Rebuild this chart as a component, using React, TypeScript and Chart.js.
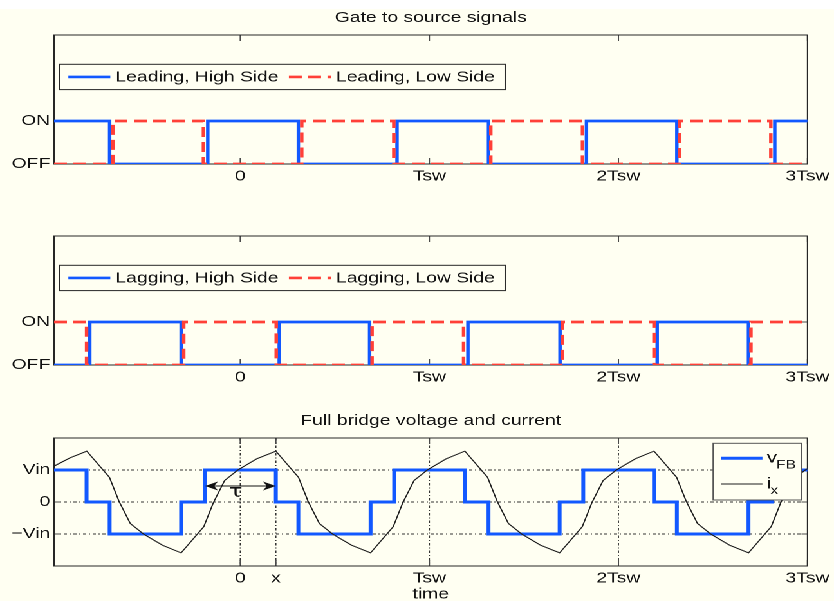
import React, { useEffect, useRef } from 'react';
import { Chart, registerables } from 'chart.js';

Chart.register(...registerables);

// The figure is laid out on a 648px-wide drawing and widened to the 834px page.
const PAGE_W = 834;
const PAGE_H = 601;
const INNER_W = 648;
const STRETCH = PAGE_W / INNER_W;
const PLOT_LEFT = 42;
const PLOT_RIGHT_PAD = INNER_W - 629.4;

const FONT = '"Liberation Sans", Arial, Helvetica, sans-serif';
const BG = 'rgb(255,255,242)';
const INK = '#121212';
const FRAME = '#262626';
const BLUE = 'rgb(18,88,255)';
const RED = 'rgb(255,64,56)';
const CURRENT = 'rgb(30,30,30)';

// time axis, in switching periods
const xMin = -0.985;
const xMax = 3;
const gateXTicks = [0, 1, 2, 3];
const gateXLabels = ['0', 'Tsw', '2Tsw', '3Tsw'];
const bridgeXTicks = [0, 0.188, 1, 2, 3];
const bridgeXLabels = ['0', 'x', 'Tsw', '2Tsw', '3Tsw'];

const gateYTicks = [0, 1];
const gateYLabels = ['OFF', 'ON'];
const bridgeYTicks = [-1, 0, 1];
const bridgeYLabels = ['\u2212Vin', '0', 'Vin'];

// gate signals: switching instants and the state that starts at each one
const leadHighT = [-0.985, -0.691, -0.172, 0.307, 0.829, 1.313, 1.831, 2.309, 2.827, 3];
const leadHighS = [1, 0, 1, 0, 1, 0, 1, 0, 1, 1];
const leadLowT = [-0.985, -0.673, -0.195, 0.325, 0.812, 1.325, 1.81, 2.323, 2.806, 3];
const leadLowS = [0, 1, 0, 1, 0, 1, 0, 1, 0, 0];
const lagHighT = [-0.985, -0.796, -0.313, 0.206, 0.684, 1.204, 1.691, 2.205, 2.688, 3];
const lagHighS = [0, 1, 0, 1, 0, 1, 0, 1, 0, 0];
const lagLowT = [-0.985, -0.813, -0.299, 0.19, 0.697, 1.181, 1.703, 2.188, 2.701, 3];
const lagLowS = [1, 0, 1, 0, 1, 0, 1, 0, 1, 1];

// full bridge voltage (in Vin) and its switching instants
const vfbT = [-0.985, -0.813, -0.691, -0.313, -0.186, 0.188, 0.307, 0.689, 0.814, 1.188, 1.313, 1.689, 1.814, 2.188, 2.309, 2.688, 2.814, 3];
const vfbV = [1, 0, -1, 0, 1, 0, -1, 0, 1, 0, -1, 0, 1, 0, -1, 0, 1, 1];

// bridge current samples
const ixT = [-0.985, -0.9, -0.812, -0.692, -0.642, -0.582, -0.512, -0.412, -0.313, -0.193, -0.143, -0.083, -0.013, 0.087, 0.188, 0.308, 0.358, 0.418, 0.488, 0.588, 0.689, 0.809, 0.859, 0.919, 0.989, 1.089, 1.188, 1.308, 1.358, 1.418, 1.488, 1.588, 1.689, 1.809, 1.859, 1.919, 1.989, 2.089, 2.188, 2.308, 2.358, 2.418, 2.488, 2.588, 2.688, 2.808, 2.858, 2.918, 2.988, 3];
const ixV = [1.12, 1.38, 1.59, 0.77, 0.03, -0.67, -1.0, -1.35, -1.59, -0.77, -0.03, 0.67, 1.0, 1.35, 1.59, 0.77, 0.03, -0.67, -1.0, -1.35, -1.59, -0.77, -0.03, 0.67, 1.0, 1.35, 1.59, 0.77, 0.03, -0.67, -1.0, -1.35, -1.59, -0.77, -0.03, 0.67, 1.0, 1.35, 1.59, 0.77, 0.03, -0.67, -1.0, -1.35, -1.59, -0.77, -0.03, 0.67, 1.0, 1.04];

// phase shift marker
const tauStart = -0.186;
const tauEnd = 0.188;
const tauLevel = 0.5;
const tauLabelAt = [-0.025, 0.3];

const toPoints = (t: number[], v: number[]) => t.map((x, i) => ({ x, y: v[i] }));

type Entry = { label: string; sub?: string; color: string; width: number; dash: number[] };

const framePlugin = (xTicks: number[], yTicks: number[], grid: boolean) => ({
  id: 'frame',
  beforeDatasetsDraw(chart: any) {
    const { ctx, chartArea: a, scales } = chart;
    const xs = scales.x;
    const ys = scales.y;
    ctx.save();
    if (grid) {
      ctx.strokeStyle = '#333';
      ctx.lineWidth = 0.9;
      ctx.setLineDash([2.5, 2, 1, 2]);
      xTicks.forEach((v) => {
        const px = xs.getPixelForValue(v);
        if (px > a.left + 1 && px < a.right - 1) {
          ctx.beginPath();
          ctx.moveTo(px, a.top);
          ctx.lineTo(px, a.bottom);
          ctx.stroke();
        }
      });
      yTicks.forEach((v) => {
        const py = ys.getPixelForValue(v);
        ctx.beginPath();
        ctx.moveTo(a.left, py);
        ctx.lineTo(a.right, py);
        ctx.stroke();
      });
      ctx.setLineDash([]);
    }
    ctx.strokeStyle = '#4a4a4a';
    ctx.lineWidth = 1;
    xTicks.forEach((v) => {
      const px = xs.getPixelForValue(v);
      ctx.beginPath();
      ctx.moveTo(px, a.top);
      ctx.lineTo(px, a.top + 6);
      ctx.moveTo(px, a.bottom);
      ctx.lineTo(px, a.bottom - 6);
      ctx.stroke();
    });
    yTicks.forEach((v) => {
      const py = ys.getPixelForValue(v);
      ctx.beginPath();
      ctx.moveTo(a.left, py);
      ctx.lineTo(a.left + 4.7, py);
      ctx.moveTo(a.right, py);
      ctx.lineTo(a.right - 4.7, py);
      ctx.stroke();
    });
    ctx.strokeStyle = FRAME;
    ctx.strokeRect(a.left, a.top, a.right - a.left, a.bottom - a.top);
    ctx.restore();
  },
});

const sample = (ctx: any, e: Entry, x1: number, x2: number, y: number) => {
  ctx.save();
  ctx.strokeStyle = e.color;
  ctx.lineWidth = e.width;
  ctx.setLineDash(e.dash);
  ctx.beginPath();
  ctx.moveTo(x1, y);
  ctx.lineTo(x2, y);
  ctx.stroke();
  ctx.restore();
};

// one-row legend box in the upper left of the plot area
const rowLegendPlugin = (entries: Entry[]) => ({
  id: 'rowLegend',
  afterDatasetsDraw(chart: any) {
    const { ctx, chartArea: a } = chart;
    ctx.save();
    ctx.font = `15px ${FONT}`;
    const x0 = a.left + 4.4;
    const y0 = a.top + 29.3;
    const h = 25.3;
    const cy = y0 + h / 2;
    const lineLen = 32.6;
    const widths = entries.map((e) => ctx.measureText(e.label).width);
    let w = 6.7;
    widths.forEach((tw, i) => {
      w += lineLen + 4 + tw + (i < widths.length - 1 ? 8 : 0);
    });
    w += 8;
    ctx.fillStyle = BG;
    ctx.fillRect(x0, y0, w, h);
    ctx.strokeStyle = FRAME;
    ctx.lineWidth = 1;
    ctx.strokeRect(x0, y0, w, h);
    let x = x0 + 6.7;
    entries.forEach((e, i) => {
      sample(ctx, e, x, x + lineLen, cy);
      x += lineLen + 4;
      ctx.fillStyle = INK;
      ctx.textBaseline = 'middle';
      ctx.textAlign = 'left';
      ctx.fillText(e.label, x, cy + 0.5);
      x += widths[i] + 8;
    });
    ctx.restore();
  },
});

// stacked legend box in the upper right, with subscripted names
const columnLegendPlugin = (entries: Entry[]) => ({
  id: 'columnLegend',
  afterDatasetsDraw(chart: any) {
    const { ctx, chartArea: a } = chart;
    ctx.save();
    const w = 68.6;
    const h = 56.7;
    const x0 = a.right - 4.7 - w;
    const y0 = a.top + 5.3;
    ctx.fillStyle = BG;
    ctx.fillRect(x0, y0, w, h);
    ctx.strokeStyle = '#555';
    ctx.lineWidth = 1;
    ctx.strokeRect(x0, y0, w, h);
    const rows = [15, 40.7];
    entries.forEach((e, i) => {
      const ly = y0 + rows[i];
      sample(ctx, e, x0 + 5.9, x0 + 38.3, ly);
      const tx = x0 + 41.6;
      ctx.fillStyle = INK;
      ctx.textAlign = 'left';
      ctx.textBaseline = 'alphabetic';
      ctx.font = `16px ${FONT}`;
      ctx.fillText(e.label, tx, ly + 4.4);
      const mw = ctx.measureText(e.label).width;
      if (e.sub) {
        ctx.font = `12px ${FONT}`;
        ctx.fillText(e.sub, tx + mw - 0.6, ly + 10);
      }
    });
    ctx.restore();
  },
});

// double-headed arrow marking the phase shift
const tauPlugin = {
  id: 'tau',
  afterDatasetsDraw(chart: any) {
    const { ctx, scales } = chart;
    const xs = scales.x;
    const ys = scales.y;
    const x1 = xs.getPixelForValue(tauStart);
    const x2 = xs.getPixelForValue(tauEnd);
    const y = ys.getPixelForValue(tauLevel);
    ctx.save();
    ctx.strokeStyle = '#111';
    ctx.fillStyle = '#111';
    ctx.lineWidth = 1;
    ctx.beginPath();
    ctx.moveTo(x1 + 3, y);
    ctx.lineTo(x2 - 3, y);
    ctx.stroke();
    const head = (tip: number, dir: number) => {
      ctx.beginPath();
      ctx.moveTo(tip, y);
      ctx.lineTo(tip - dir * 10, y - 4.5);
      ctx.lineTo(tip - dir * 7, y);
      ctx.lineTo(tip - dir * 10, y + 4.5);
      ctx.closePath();
      ctx.fill();
    };
    head(x1, -1);
    head(x2, 1);
    ctx.font = '18px "DejaVu Sans", sans-serif';
    ctx.textAlign = 'center';
    ctx.textBaseline = 'middle';
    ctx.fillText('\u03c4', xs.getPixelForValue(tauLabelAt[0]), ys.getPixelForValue(tauLabelAt[1]));
    ctx.restore();
  },
};

const tickFont = { family: FONT, size: 15 };

function makeConfig(opts: {
  datasets: any[];
  title?: string;
  titlePadding?: { top: number; bottom: number };
  padTop: number;
  xAxisHeight: number;
  xTicks: number[];
  xLabels: string[];
  yTicks: number[];
  yLabels: string[];
  yMin: number;
  yMax: number;
  xTitle?: string;
  plugins: any[];
}): any {
  return {
    type: 'line',
    data: { datasets: opts.datasets },
    plugins: opts.plugins,
    options: {
      animation: false,
      responsive: true,
      maintainAspectRatio: false,
      devicePixelRatio: 2,
      events: [],
      layout: { padding: { left: 0, right: PLOT_RIGHT_PAD, top: opts.padTop, bottom: 0 } },
      elements: { point: { radius: 0 }, line: { tension: 0 } },
      plugins: {
        legend: { display: false },
        tooltip: { enabled: false },
        title: {
          display: !!opts.title,
          text: opts.title || '',
          fullSize: false,
          color: INK,
          font: { family: FONT, size: 15, weight: 'normal', lineHeight: 1.2 },
          padding: opts.titlePadding || { top: 0, bottom: 0 },
        },
      },
      scales: {
        x: {
          type: 'linear',
          min: xMin,
          max: xMax,
          afterBuildTicks: (s: any) => {
            s.ticks = opts.xTicks.map((value) => ({ value }));
          },
          afterFit: (s: any) => {
            s.height = opts.xAxisHeight;
          },
          grid: { display: false, drawTicks: false },
          border: { display: false },
          ticks: {
            autoSkip: false,
            maxRotation: 0,
            minRotation: 0,
            padding: 3.5,
            color: INK,
            font: tickFont,
            callback: (_v: any, i: number) => opts.xLabels[i],
          },
          title: {
            display: !!opts.xTitle,
            text: opts.xTitle || '',
            color: INK,
            font: { family: FONT, size: 15, lineHeight: 1.2 },
            padding: { top: 0, bottom: 6.7 },
          },
        },
        y: {
          type: 'linear',
          min: opts.yMin,
          max: opts.yMax,
          afterBuildTicks: (s: any) => {
            s.ticks = opts.yTicks.map((value) => ({ value }));
          },
          afterFit: (s: any) => {
            s.width = PLOT_LEFT;
          },
          grid: { display: false, drawTicks: false },
          border: { display: false },
          ticks: {
            padding: 3,
            color: INK,
            font: tickFont,
            callback: (_v: any, i: number) => opts.yLabels[i],
          },
        },
      },
    },
  };
}

const gateSet = (label: string, t: number[], s: number[], color: string, dash: number[], order: number) => ({
  label,
  data: toPoints(t, s),
  borderColor: color,
  backgroundColor: color,
  borderWidth: 2.7,
  borderDash: dash,
  stepped: 'before',
  pointRadius: 0,
  fill: false,
  order,
});

const leadEntries: Entry[] = [
  { label: 'Leading, High Side', color: BLUE, width: 2.7, dash: [] },
  { label: 'Leading, Low Side', color: RED, width: 2.7, dash: [10, 5] },
];
const lagEntries: Entry[] = [
  { label: 'Lagging, High Side', color: BLUE, width: 2.7, dash: [] },
  { label: 'Lagging, Low Side', color: RED, width: 2.7, dash: [10, 5] },
];
const bridgeEntries: Entry[] = [
  { label: 'v', sub: 'FB', color: BLUE, width: 3, dash: [] },
  { label: 'i', sub: 'x', color: CURRENT, width: 1, dash: [] },
];

export default function App() {
  const lead = useRef<HTMLCanvasElement>(null);
  const lag = useRef<HTMLCanvasElement>(null);
  const bridge = useRef<HTMLCanvasElement>(null);

  useEffect(() => {
    const charts: Chart[] = [];
    charts.push(
      new Chart(
        lead.current!,
        makeConfig({
          datasets: [
            gateSet(leadEntries[0].label, leadHighT, leadHighS, BLUE, [], 1),
            gateSet(leadEntries[1].label, leadLowT, leadLowS, RED, [10, 5], 0),
          ],
          title: 'Gate to source signals',
          titlePadding: { top: 9, bottom: 8 },
          padTop: 0,
          xAxisHeight: 36,
          xTicks: gateXTicks,
          xLabels: gateXLabels,
          yTicks: gateYTicks,
          yLabels: gateYLabels,
          yMin: 0,
          yMax: 3,
          plugins: [framePlugin(gateXTicks, gateYTicks, false), rowLegendPlugin(leadEntries)],
        })
      )
    );
    charts.push(
      new Chart(
        lag.current!,
        makeConfig({
          datasets: [
            gateSet(lagEntries[0].label, lagHighT, lagHighS, BLUE, [], 1),
            gateSet(lagEntries[1].label, lagLowT, lagLowS, RED, [10, 5], 0),
          ],
          padTop: 36,
          xAxisHeight: 35,
          xTicks: gateXTicks,
          xLabels: gateXLabels,
          yTicks: gateYTicks,
          yLabels: gateYLabels,
          yMin: 0,
          yMax: 3,
          plugins: [framePlugin(gateXTicks, gateYTicks, false), rowLegendPlugin(lagEntries)],
        })
      )
    );
    charts.push(
      new Chart(
        bridge.current!,
        makeConfig({
          datasets: [
            {
              label: 'vFB',
              data: toPoints(vfbT, vfbV),
              borderColor: BLUE,
              borderWidth: 3,
              stepped: 'before',
              pointRadius: 0,
              fill: false,
              order: 1,
            },
            {
              label: 'ix',
              data: toPoints(ixT, ixV),
              borderColor: CURRENT,
              borderWidth: 1,
              pointRadius: 0,
              fill: false,
              order: 0,
            },
          ],
          title: 'Full bridge voltage and current',
          titlePadding: { top: 12, bottom: 8 },
          padTop: 0,
          xAxisHeight: 44,
          xTicks: bridgeXTicks,
          xLabels: bridgeXLabels,
          yTicks: bridgeYTicks,
          yLabels: bridgeYLabels,
          yMin: -2,
          yMax: 2,
          xTitle: 'time',
          plugins: [framePlugin(bridgeXTicks, bridgeYTicks, true), tauPlugin, columnLegendPlugin(bridgeEntries)],
        })
      )
    );
    return () => charts.forEach((c) => c.destroy());
  }, []);

  return (
    <div
      style={{
        position: 'fixed',
        left: 0,
        top: 0,
        width: PAGE_W,
        height: PAGE_H,
        overflow: 'hidden',
        background: BG,
      }}
    >
      <div style={{ position: 'absolute', left: 0, top: 0, width: PAGE_W, height: 9, background: '#ffffff' }} />
      <div
        style={{
          position: 'absolute',
          left: 0,
          top: 0,
          width: INNER_W,
          height: 610,
          transform: `scaleX(${STRETCH})`,
          transformOrigin: '0 0',
        }}
      >
        <div style={{ position: 'absolute', left: 0, top: 0, width: INNER_W, height: 200 }}>
          <canvas ref={lead} />
        </div>
        <div style={{ position: 'absolute', left: 0, top: 200, width: INNER_W, height: 200 }}>
          <canvas ref={lag} />
        </div>
        <div style={{ position: 'absolute', left: 0, top: 400, width: INNER_W, height: 210 }}>
          <canvas ref={bridge} />
        </div>
      </div>
    </div>
  );
}
